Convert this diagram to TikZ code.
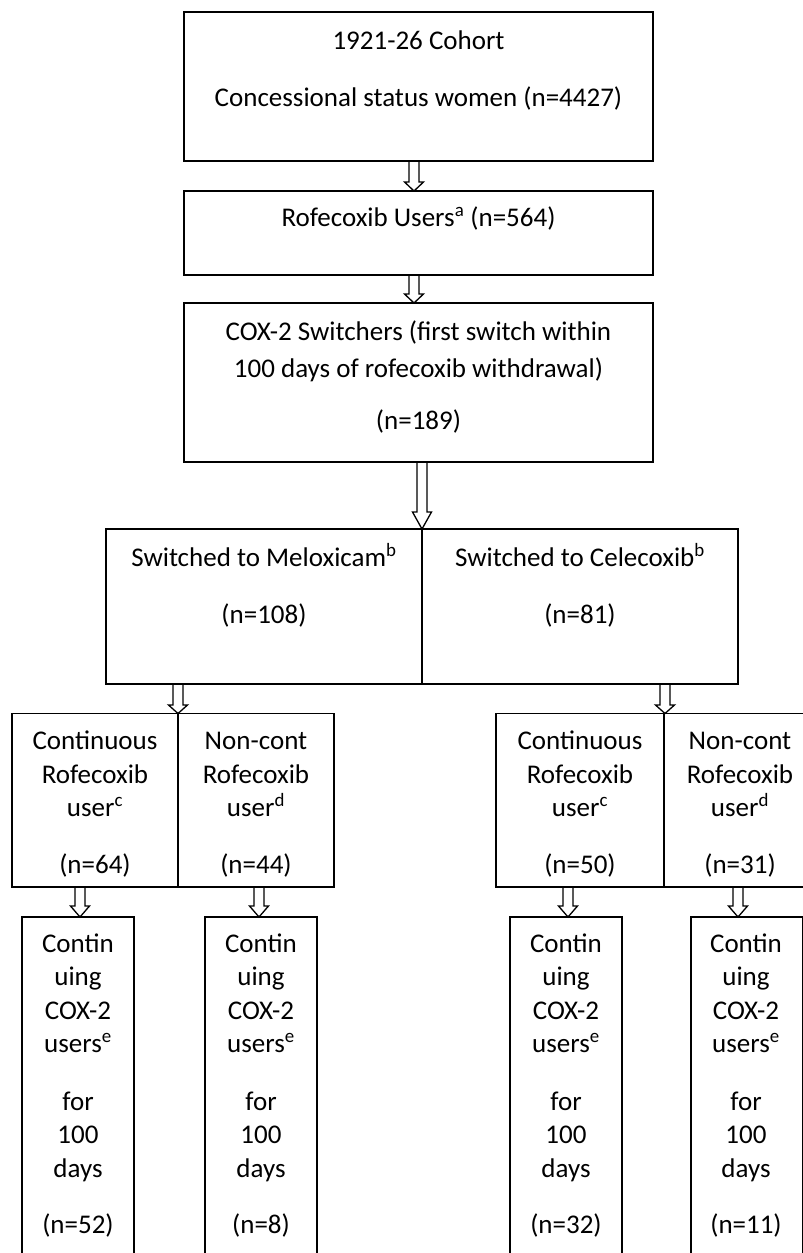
\documentclass[tikz,border=0pt]{standalone}
\usepackage{fontspec}
\setmainfont{Carlito}
\usetikzlibrary{calc,fit}
\begin{document}
\begin{tikzpicture}[x=1pt,y=-1pt,
  box/.style={draw, line width=1.4pt, rectangle, inner sep=0pt, outer sep=0pt},
  txt/.style={anchor=base, inner sep=0pt, font=\fontsize{27}{33.5}\selectfont},
  harrow/.style={draw, line width=1.3pt, line join=miter,
    to path={let \p1=(\tikztostart), \p2=(\tikztotarget) in
      (\x1-5pt,\y1) -- (\x1-5pt,\y2+#1) -- (\x1-9.5pt,\y2+#1) -- (\x2,\y2)
      -- (\x1+9.5pt,\y2+#1) -- (\x1+5pt,\y2+#1) -- (\x1+5pt,\y1)}},
  harrow/.default=9pt]
\useasboundingbox (0,0) rectangle (803,1253);
\clip (0,0) rectangle (803,1253);
\fill[white] (0,0) rectangle (803,1253);

% boxes
\node[box, fit={(184,12) (653,161)}] (b1) {};
\node[box, fit={(184,191) (653,275)}] (b2) {};
\node[box, fit={(184,303) (653,462)}] (b3) {};
\node[box, fit={(106,529) (422,684)}] (b4l) {};
\node[box, fit={(422,529) (738,684)}] (b4r) {};
\node[box, fit={(12,713.5) (178,887)}] (r5a) {};
\node[box, fit={(178,713.5) (334,887)}] (r5b) {};
\node[box, fit={(496,713.5) (664,887)}] (r5c) {};
\node[box, fit={(664,713.5) (816,887)}] (r5d) {};
\node[box, fit={(22,917) (134,1275)}] (r6a) {};
\node[box, fit={(205,917) (317,1275)}] (r6b) {};
\node[box, fit={(510,917) (622,1275)}] (r6c) {};
\node[box, fit={(691,917) (802.3,1275)}] (r6d) {};

% arrow x positions
\coordinate (ax1) at (414,0);
\coordinate (ax3) at (422,0);
\coordinate (ax4) at (178,0);
\coordinate (ax5) at (665,0);
\coordinate (ax6) at (80,0);
\coordinate (ax7) at (259,0);
\coordinate (ax8) at (568,0);
\coordinate (ax9) at (738,0);

\draw[harrow] (b1.south -| ax1) to (b2.north -| ax1);
\draw[harrow] (b2.south -| ax1) to (b3.north -| ax1);
\draw[harrow=17pt] (b3.south -| ax3) to (b4l.north -| ax3);
\draw[harrow=8.5pt] (b4l.south -| ax4) to (r5a.north -| ax4);
\draw[harrow=8.5pt] (b4r.south -| ax5) to (r5c.north -| ax5);
\draw[harrow=11pt] (r5a.south -| ax6) to (r6a.north -| ax6);
\draw[harrow=11pt] (r5b.south -| ax7) to (r6b.north -| ax7);
\draw[harrow=11pt] (r5c.south -| ax8) to (r6c.north -| ax8);
\draw[harrow=11pt] (r5d.south -| ax9) to (r6d.north -| ax9);

% texts
\node[txt] (t1a) at (418.5,49) {1921-26 Cohort};
\node[txt] (t1b) at (418.5,106) {Concessional status women (n=4427)};
\node[txt] (t2) at (418.5,226) {Rofecoxib Users\textsuperscript{a} (n=564)};
\node[txt] (t3a) at (418.5,340) {COX-2 Switchers (first switch within};
\node[txt] (t3b) at (418.5,377) {100 days of rofecoxib withdrawal)};
\node[txt] (t3c) at (418.5,429) {(n=189)};
\node[txt] (t4a) at (264,566) {Switched to Meloxicam\textsuperscript{b}};
\node[txt] (t4b) at (264,623) {(n=108)};
\node[txt] (t4c) at (580,566) {Switched to Celecoxib\textsuperscript{b}};
\node[txt] (t4d) at (580,623) {(n=81)};

\foreach \cx/\l/\s/\n [count=\i] in {95/Continuous/c/64, 256/Non-cont/d/44, 580/Continuous/c/50, 740/Non-cont/d/31}{
  \node[txt] (r5t\i a) at (\cx,749) {\l};
  \node[txt] (r5t\i b) at (\cx,783) {Rofecoxib};
  \node[txt] (r5t\i c) at (\cx,816) {user\textsuperscript{\s}};
  \node[txt] (r5t\i d) at (\cx,873) {(n=\n)};
}
\foreach \cx/\n [count=\i] in {78/52, 261/8, 566/32, 746/11}{
  \node[txt] (r6t\i a) at (\cx,952) {Contin};
  \node[txt] (r6t\i b) at (\cx,985.5) {uing};
  \node[txt] (r6t\i c) at (\cx,1019) {COX-2};
  \node[txt] (r6t\i d) at (\cx,1052) {users\textsuperscript{e}};
  \node[txt] (r6t\i e) at (\cx,1110) {for};
  \node[txt] (r6t\i f) at (\cx,1143) {100};
  \node[txt] (r6t\i g) at (\cx,1177) {days};
  \node[txt] (r6t\i h) at (\cx,1233) {(n=\n)};
}
\end{tikzpicture}
\end{document}
